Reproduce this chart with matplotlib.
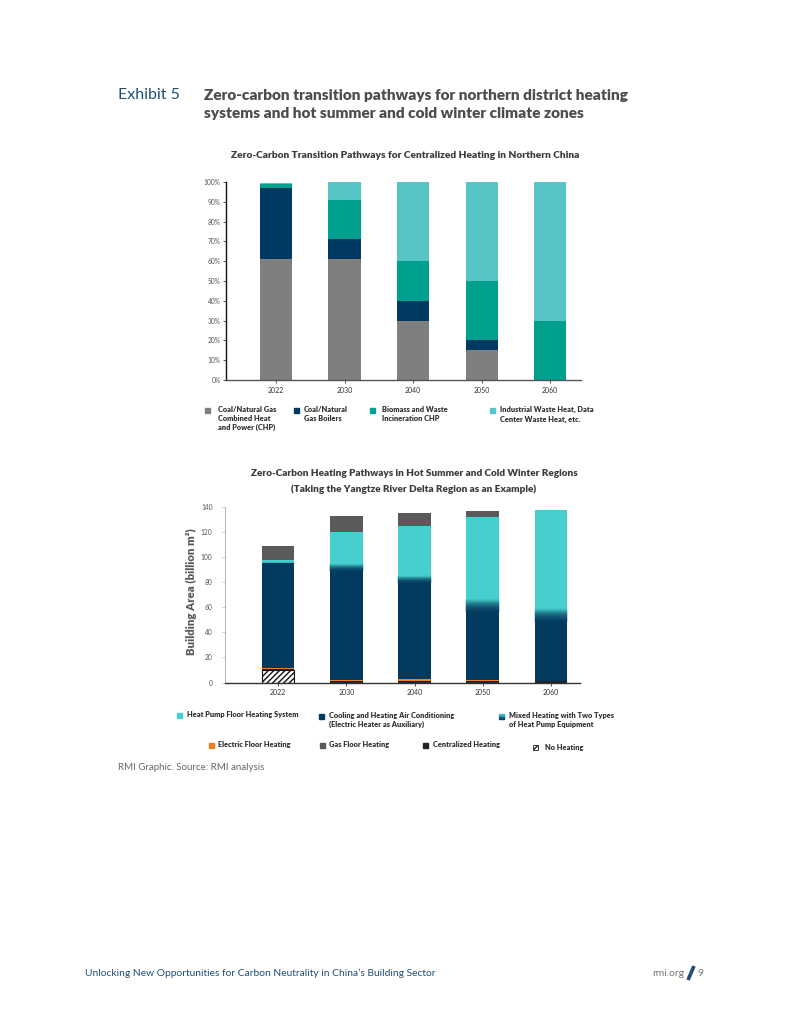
import numpy as np
import matplotlib
matplotlib.use("Agg")
import matplotlib.pyplot as plt
from matplotlib.patches import Rectangle
from matplotlib.colors import LinearSegmentedColormap

plt.rcParams['font.family'] = ['Lato', 'DejaVu Sans']
plt.rcParams['hatch.linewidth'] = 1.0

# ---------------- data ----------------
years = ["2022", "2030", "2040", "2050", "2060"]

# Chart 1 (share, %)
chp_coal_gas = [61, 61, 30, 15, 0]
boilers_coal_gas = [36, 10, 10, 5, 0]
biomass_chp = [2, 20, 20, 30, 30]
industrial_waste_heat = [0.6, 9, 40, 50, 70]
legend1_labels = ["Coal/Natural Gas\nCombined Heat\nand Power (CHP)",
                  "Coal/Natural\nGas Boilers",
                  "Biomass and Waste\nIncineration CHP",
                  "Industrial Waste Heat, Data\nCenter Waste Heat, etc."]
pct_ticks = [0, 10, 20, 30, 40, 50, 60, 70, 80, 90, 100]

# Chart 2 (billion m2)
no_heating = [10, 0, 0, 0, 0]
centralized = [0.6, 1, 1, 1, 1.5]
electric_floor = [1, 1, 1.5, 1, 0]
ac_cooling_heating = [84.7, 87, 77, 54, 47]
mixed_heat_pump = [0, 6, 6, 11, 11]
heat_pump_floor = [1.7, 25, 39.5, 65, 78.5]
gas_floor = [11, 13, 10.5, 5, 0]
area_ticks = [0, 20, 40, 60, 80, 100, 120, 140]

# ---------------- style ----------------
C1 = ['#7f7f7f', '#003a63', '#00a08e', '#57c5c5']
C_HP = '#45cfcf'
C_AC = '#033a5f'
C_ORANGE = '#f07f1e'
C_GAS = '#5a5a5a'
C_CENT = '#222222'
grad_cmap = LinearSegmentedColormap.from_list('mix', [C_AC, '#0f4f70', '#23808f', C_HP])
BOLD = 'heavy'
TXT = '#333333'

W, H = 791, 1024
fig = plt.figure(figsize=(W / 100, H / 100), dpi=100)

ov = fig.add_axes([0, 0, 1, 1])
ov.set_xlim(0, W)
ov.set_ylim(H, 0)
ov.axis('off')
ov.patch.set_visible(False)


def fax(l, t, r, b):
    return fig.add_axes([l / W, 1 - b / H, (r - l) / W, (b - t) / H])


# ---------------- header ----------------
ov.text(118, 95, "Exhibit 5", fontsize=11.5, color='#1f4e79', va='center', ha='left')
ov.text(204, 95, "Zero-carbon transition pathways for northern district heating",
        fontsize=11.1, fontweight=BOLD, color='#4d4d4d', va='center', ha='left')
ov.text(204, 113, "systems and hot summer and cold winter climate zones",
        fontsize=11.1, fontweight=BOLD, color='#4d4d4d', va='center', ha='left')

# ---------------- chart 1 ----------------
ax1 = fax(226, 182, 581, 380)
x = np.arange(len(years))
bw = 0.47
bottom = np.zeros(len(years))
for vals, c in zip([chp_coal_gas, boilers_coal_gas, biomass_chp, industrial_waste_heat], C1):
    ax1.bar(x, vals, bw, bottom=bottom, color=c, edgecolor='none', zorder=2)
    bottom += np.array(vals)
ax1.set_xlim(-0.73, 4.45)
ax1.set_ylim(0, 100)
ax1.set_yticks(pct_ticks)
ax1.set_yticklabels([f"{t}%" for t in pct_ticks], fontsize=4.8, color='#555555')
ax1.set_xticks(x)
ax1.set_xticklabels(years, fontsize=5, color='#333333')
for s in ['top', 'right']:
    ax1.spines[s].set_visible(False)
ax1.spines['left'].set_color('#111111')
ax1.spines['left'].set_linewidth(1.0)
ax1.spines['bottom'].set_color('#555555')
ax1.spines['bottom'].set_linewidth(1.0)
ax1.tick_params(axis='y', length=2.5, width=0.6, pad=1.5, color='#333333')
ax1.tick_params(axis='x', length=2.0, width=0.6, pad=3, color='#333333')
ax1.patch.set_visible(False)

ov.text(405, 155, "Zero-Carbon Transition Pathways for Centralized Heating in Northern China",
        fontsize=7.3, fontweight=BOLD, color='#3d3d3d', ha='center', va='center')

leg1 = [(207, 218), (296, 304), (372, 382), (492, 500)]
for (sx, tx), c, lab in zip(leg1, C1, legend1_labels):
    ov.add_patch(Rectangle((sx - 2.5, 408), 5, 5, color=c))
    ov.text(tx, 406, lab, fontsize=5.3, fontweight=BOLD, color=TXT,
            ha='left', va='top', linespacing=1.35)

# ---------------- chart 2 ----------------
ax2 = fax(225, 507, 580, 682.5)
bw2 = 0.48
b = np.zeros(len(years))
ax2.bar(x, no_heating, bw2, bottom=b, color='white', edgecolor='#111111', hatch='//////',
        linewidth=0.8, zorder=2)
b += np.array(no_heating)
ax2.bar(x, centralized, bw2, bottom=b, color=C_CENT, edgecolor='none', zorder=2)
b += np.array(centralized)
ax2.bar(x, electric_floor, bw2, bottom=b, color=C_ORANGE, edgecolor='none', zorder=2)
b += np.array(electric_floor)
ax2.bar(x, ac_cooling_heating, bw2, bottom=b, color=C_AC, edgecolor='none', zorder=2)
b += np.array(ac_cooling_heating)
# mixed heating drawn as a vertical gradient made of thin slices of each value
n_slices = 40
mix = np.array(mixed_heat_pump, dtype=float)
for k in range(n_slices):
    ax2.bar(x, mix / n_slices, bw2, bottom=b + mix * k / n_slices,
            color=grad_cmap((k + 0.5) / n_slices), edgecolor=grad_cmap((k + 0.5) / n_slices),
            linewidth=0.3, zorder=2)
b += mix
ax2.bar(x, heat_pump_floor, bw2, bottom=b, color=C_HP, edgecolor='none', zorder=2)
b += np.array(heat_pump_floor)
ax2.bar(x, gas_floor, bw2, bottom=b, color=C_GAS, edgecolor='none', zorder=2)

ax2.set_xlim(-0.777, 4.425)
ax2.set_ylim(0, 140)
ax2.set_yticks(area_ticks)
ax2.set_yticklabels([str(t) for t in area_ticks], fontsize=4.8, color='#555555')
ax2.set_xticks(x)
ax2.set_xticklabels(years, fontsize=5, color='#333333')
for s in ['top', 'right']:
    ax2.spines[s].set_visible(False)
ax2.spines['left'].set_color('#bbbbbb')
ax2.spines['left'].set_linewidth(0.8)
ax2.spines['bottom'].set_color('#333333')
ax2.spines['bottom'].set_linewidth(1.0)
ax2.tick_params(axis='y', length=2.0, width=0.5, pad=7, color='#bbbbbb')
ax2.tick_params(axis='x', length=2.0, width=0.6, pad=3, color='#333333')
ax2.patch.set_visible(False)
ax2.set_ylabel("Building Area (billion m\u00b2)", fontsize=8.2, fontweight=BOLD,
               color='#595959', va='center')
ax2.yaxis.set_label_coords(-0.094, 0.52)

ov.text(414, 473, "Zero-Carbon Heating Pathways in Hot Summer and Cold Winter Regions",
        fontsize=7.2, fontweight=BOLD, color='#3d3d3d', ha='center', va='center')
ov.text(414, 489, "(Taking the Yangtze River Delta Region as an Example)",
        fontsize=7.2, fontweight=BOLD, color='#3d3d3d', ha='center', va='center')

# legend chart 2
def sq(cx, cy, color, hatch=None):
    if hatch:
        ov.add_patch(Rectangle((cx - 2.5, cy - 2.5), 5, 5, facecolor='white',
                               edgecolor='#222222', hatch=hatch, linewidth=0.6))
    else:
        ov.add_patch(Rectangle((cx - 2.5, cy - 2.5), 5, 5, color=color))

def ltxt(tx, ty, s):
    ov.text(tx, ty, s, fontsize=5.3, fontweight=BOLD, color=TXT,
            ha='left', va='top', linespacing=1.35)

sq(179, 715, C_HP)
ltxt(187, 711, "Heat Pump Floor Heating System")
sq(321, 716, C_AC)
ltxt(329, 712, "Cooling and Heating Air Conditioning\n(Electric Heater as Auxiliary)")
# gradient square for mixed
for k in range(5):
    ov.add_patch(Rectangle((499, 718.5 - (k + 1)), 5, 1, color=grad_cmap((k + 0.5) / 5)))
ltxt(509, 712, "Mixed Heating with Two Types\nof Heat Pump Equipment")
sq(211, 745, C_ORANGE)
ltxt(218, 741, "Electric Floor Heating")
sq(322, 745, C_GAS)
ltxt(329, 741, "Gas Floor Heating")
sq(425, 745, C_CENT)
ltxt(433, 741, "Centralized Heating")
sq(535, 747.5, None, hatch='//////')
ltxt(545, 744, "No Heating")

ov.text(118, 767, "RMI Graphic. Source: RMI analysis", fontsize=7.0, color='#666666',
        ha='left', va='center')

# ---------------- footer ----------------
ov.text(85, 973, "Unlocking New Opportunities for Carbon Neutrality in China\u2019s Building Sector",
        fontsize=7.4, color='#1f4e79', ha='left', va='center')
ov.text(684, 973, "rmi.org", fontsize=7.4, color='#777777', ha='right', va='center')
ov.plot([688, 694], [980, 966], color='#1f4e79', linewidth=2.6, solid_capstyle='butt')
ov.text(698, 973, "9", fontsize=7.4, color='#777777', ha='left', va='center')

fig.savefig("out.png", dpi=100)
